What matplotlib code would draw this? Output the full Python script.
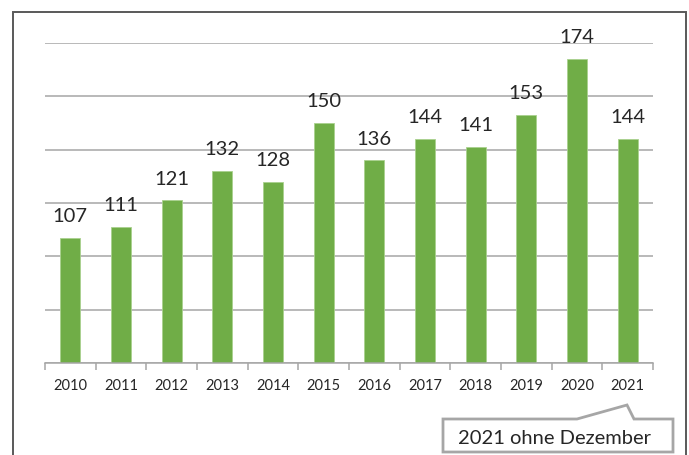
import matplotlib
matplotlib.use("Agg")
import matplotlib.pyplot as plt
from matplotlib.patches import Rectangle, Polygon

YEARS  = ["2010", "2011", "2012", "2013", "2014", "2015",
          "2016", "2017", "2018", "2019", "2020", "2021"]
VALUES = [107, 111, 121, 132, 128, 150, 136, 144, 141, 153, 174, 144]
NOTE   = "2021 ohne Dezember"

BAR_COL  = "#70AD47"
GRID_COL = "#A6A6A6"
TEXT_COL = "#262626"

plt.rcParams["font.family"] = ["Lato", "DejaVu Sans"]

W, H = 689, 456
fig = plt.figure(figsize=(W / 100, H / 100), dpi=100, facecolor="white")

def fx(px):
    return px / W

def fy(py):
    return 1 - py / H

# outer chart frame (bottom edge runs below the picture)
fig.patches.append(Rectangle((fx(12.5), fy(470)), fx(685.5) - fx(12.5), fy(12.5) - fy(470),
                             transform=fig.transFigure, fill=False,
                             edgecolor="#595959", linewidth=1.4, zorder=0))

ax = fig.add_axes([fx(45), fy(364), fx(653) - fx(45), fy(44) - fy(364)])
x = list(range(len(YEARS)))
ax.bar(x, VALUES, width=0.4, color=BAR_COL, edgecolor="#A9D18E",
       linewidth=0.6, zorder=3)

for xi, v in zip(x, VALUES):
    ax.annotate(str(v), (xi, v), xytext=(0, 12), textcoords="offset points",
                ha="center", va="baseline", fontsize=14.5, color=TEXT_COL,
                annotation_clip=False)

ax.set_xlim(-0.5, len(YEARS) - 0.5)
ax.set_ylim(60, 180)
ax.set_yticks(range(60, 181, 20))
ax.yaxis.grid(True, color=GRID_COL, linewidth=1.1, zorder=0)
ax.tick_params(axis="y", left=False, labelleft=False)

ax.set_xticks(x)
ax.set_xticklabels(YEARS, fontsize=10.5, color=TEXT_COL)
ax.set_xticks([i - 0.5 for i in range(len(YEARS) + 1)], minor=True)
ax.tick_params(axis="x", which="major", length=0, pad=11)
ax.tick_params(axis="x", which="minor", length=5, width=1.1, color=GRID_COL)

for side in ("left", "right", "top"):
    ax.spines[side].set_visible(False)
ax.spines["bottom"].set_color(GRID_COL)
ax.spines["bottom"].set_linewidth(1.1)
ax.spines["bottom"].set_zorder(4)

# callout box with pointer towards 2021
box_pts = [(443, 420), (577, 420), (627, 406), (634, 420), (673, 420),
           (673, 453), (443, 453)]
fig.patches.append(Polygon([(fx(px), fy(py)) for px, py in box_pts], closed=True,
                           transform=fig.transFigure, facecolor="white",
                           edgecolor="#A6A6A6", linewidth=2, zorder=5))
fig.text(fx(554), fy(444), NOTE, ha="center", va="baseline",
         fontsize=14.5, color=TEXT_COL, zorder=6)

fig.savefig("out.png", dpi=100, facecolor="white")
